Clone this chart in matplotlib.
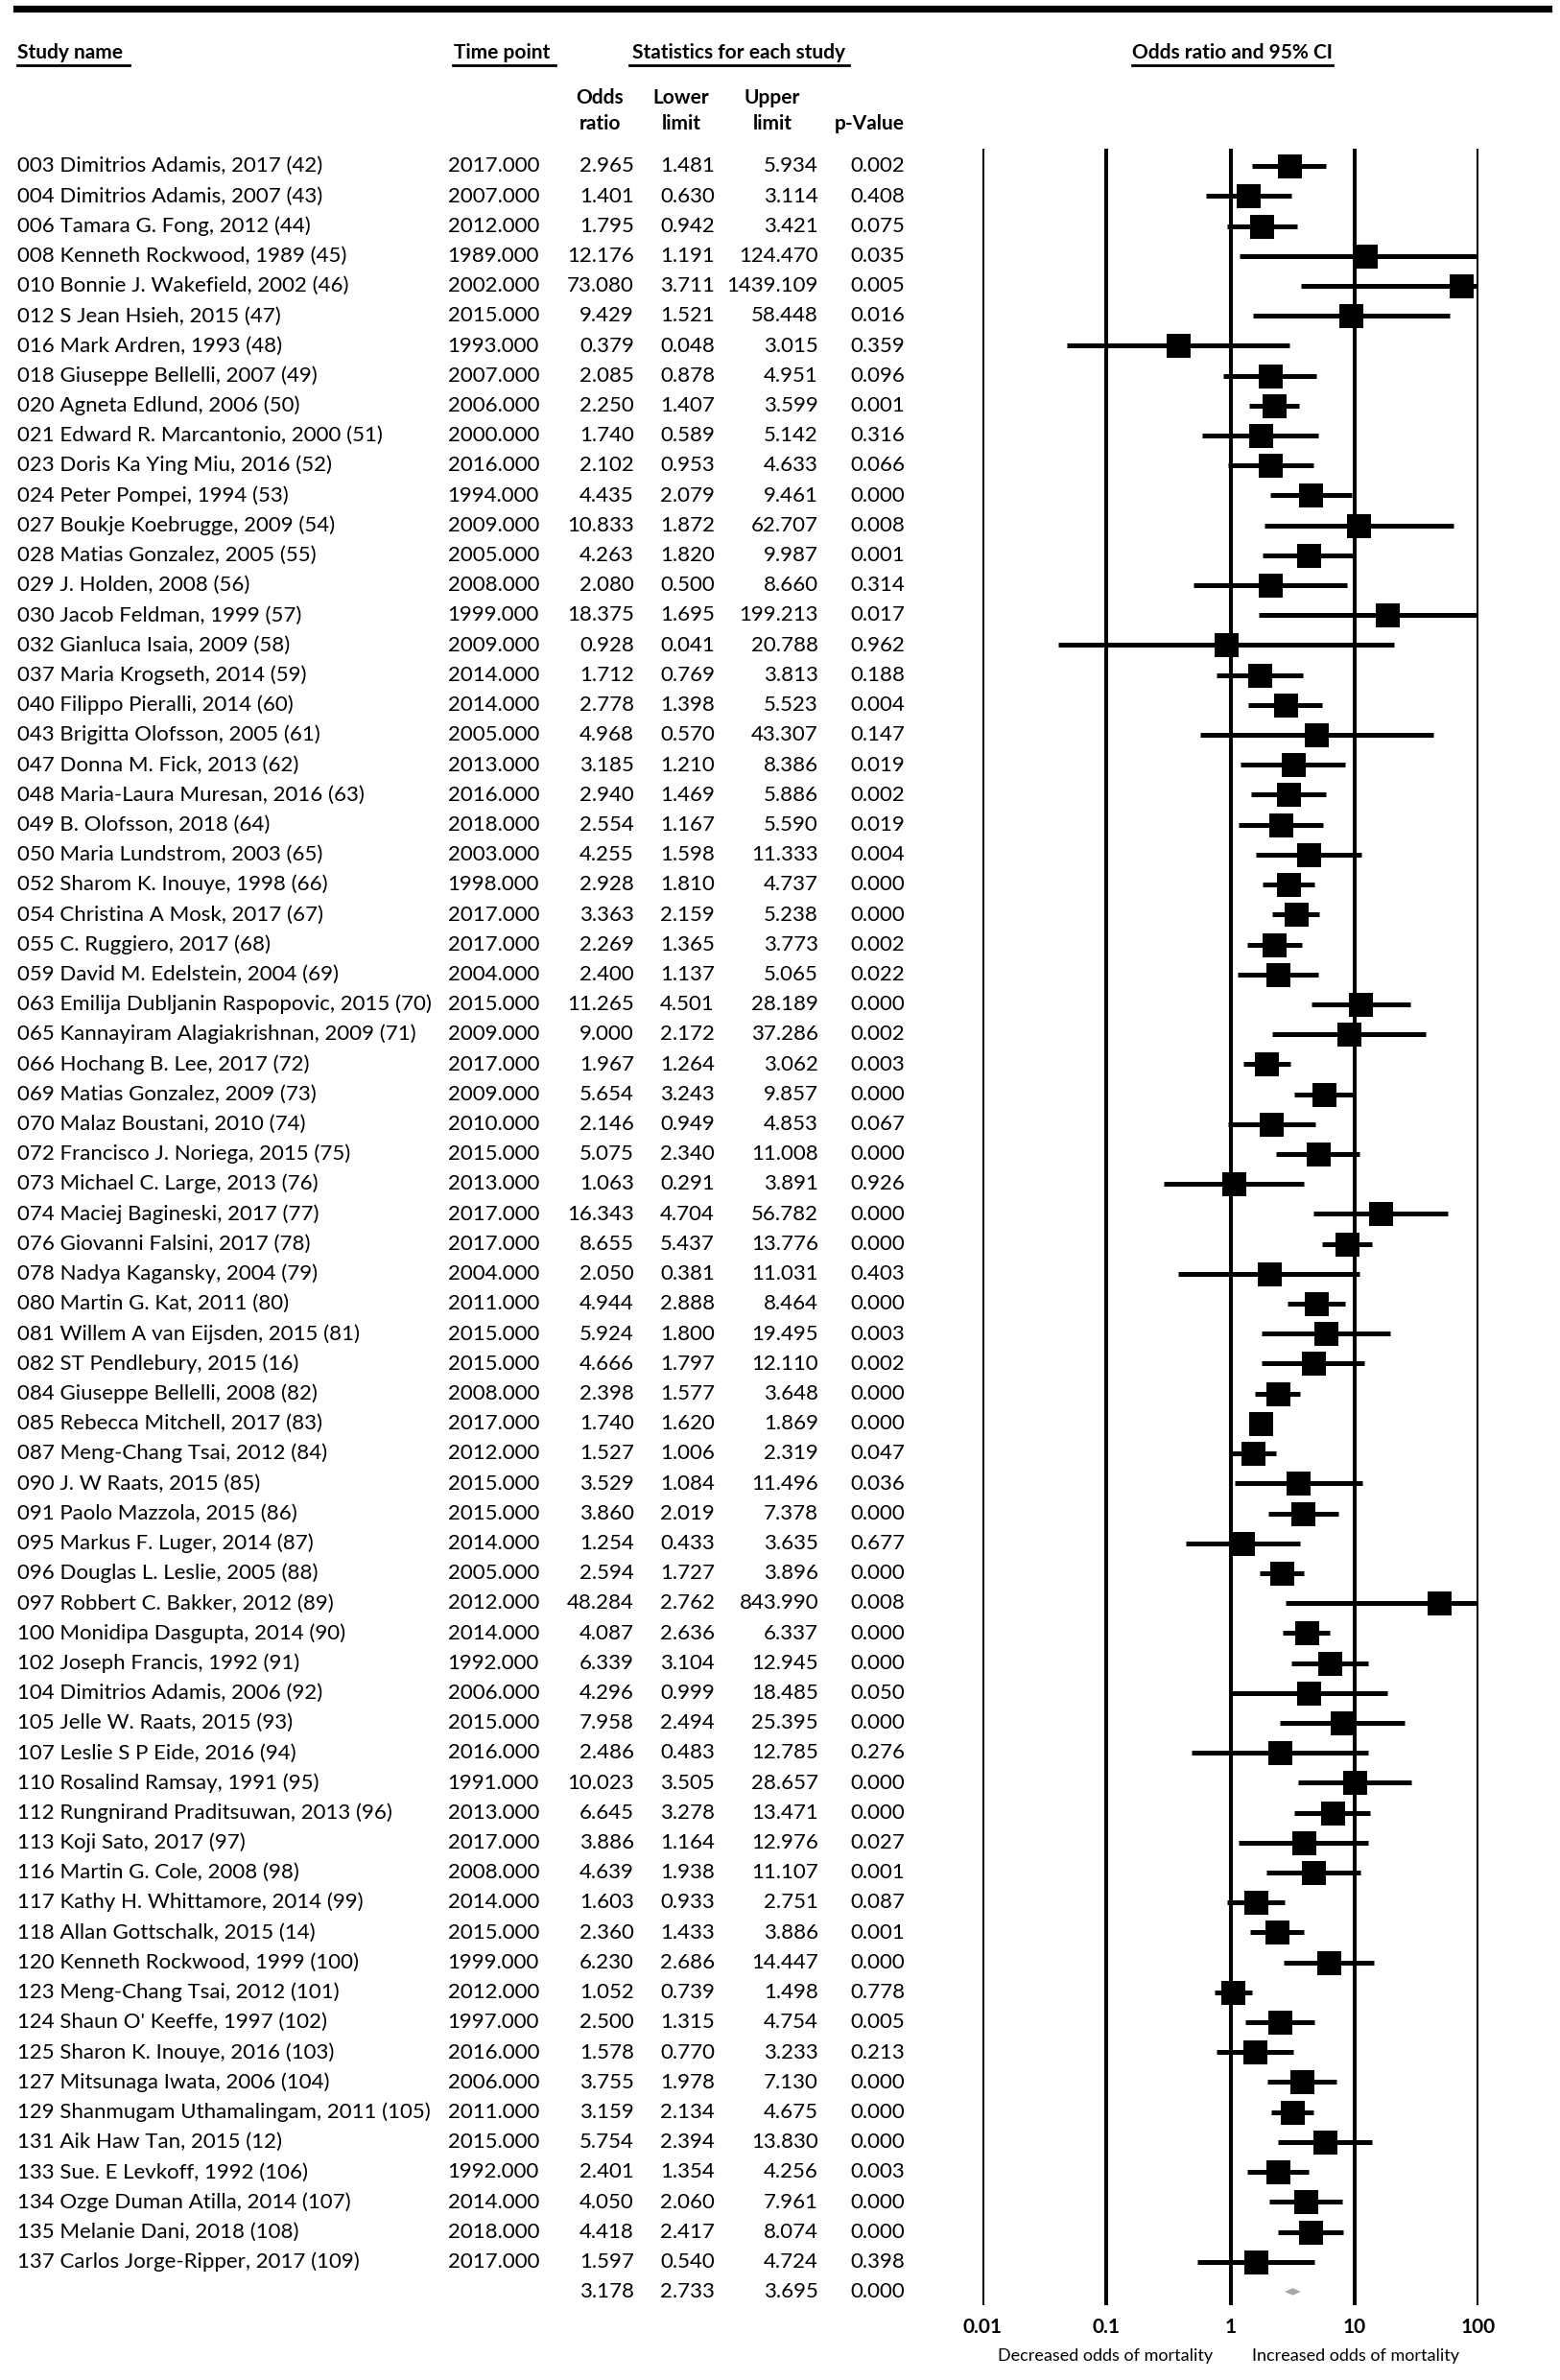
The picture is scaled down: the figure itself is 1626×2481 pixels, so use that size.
import matplotlib.pyplot as plt
from matplotlib.lines import Line2D
from matplotlib.transforms import blended_transform_factory

plt.rcParams['font.family'] = ['Lato', 'DejaVu Sans']

studies = [
    "003 Dimitrios Adamis, 2017 (42)", "004 Dimitrios Adamis, 2007 (43)",
    "006 Tamara G. Fong, 2012 (44)", "008 Kenneth Rockwood, 1989 (45)",
    "010 Bonnie J. Wakefield, 2002 (46)", "012 S Jean Hsieh, 2015 (47)",
    "016 Mark Ardren, 1993 (48)", "018 Giuseppe Bellelli, 2007 (49)",
    "020 Agneta Edlund, 2006 (50)", "021 Edward R. Marcantonio, 2000 (51)",
    "023 Doris Ka Ying Miu, 2016 (52)", "024 Peter Pompei, 1994 (53)",
    "027 Boukje Koebrugge, 2009 (54)", "028 Matias Gonzalez, 2005 (55)",
    "029 J. Holden, 2008 (56)", "030 Jacob Feldman, 1999 (57)",
    "032 Gianluca Isaia, 2009 (58)", "037 Maria Krogseth, 2014 (59)",
    "040 Filippo Pieralli, 2014 (60)", "043 Brigitta Olofsson, 2005 (61)",
    "047 Donna M. Fick, 2013 (62)", "048 Maria-Laura Muresan, 2016 (63)",
    "049 B. Olofsson, 2018 (64)", "050 Maria Lundstrom, 2003 (65)",
    "052 Sharom K. Inouye, 1998 (66)", "054 Christina A Mosk, 2017 (67)",
    "055 C. Ruggiero, 2017 (68)", "059 David M. Edelstein, 2004 (69)",
    "063 Emilija Dubljanin Raspopovic, 2015 (70)", "065 Kannayiram Alagiakrishnan, 2009 (71)",
    "066 Hochang B. Lee, 2017 (72)", "069 Matias Gonzalez, 2009 (73)",
    "070 Malaz Boustani, 2010 (74)", "072 Francisco J. Noriega, 2015 (75)",
    "073 Michael C. Large, 2013 (76)", "074 Maciej Bagineski, 2017 (77)",
    "076 Giovanni Falsini, 2017 (78)", "078 Nadya Kagansky, 2004 (79)",
    "080 Martin G. Kat, 2011 (80)", "081 Willem A van Eijsden, 2015 (81)",
    "082 ST Pendlebury, 2015 (16)", "084 Giuseppe Bellelli, 2008 (82)",
    "085 Rebecca Mitchell, 2017 (83)", "087 Meng-Chang Tsai, 2012 (84)",
    "090 J. W Raats, 2015 (85)", "091 Paolo Mazzola, 2015 (86)",
    "095 Markus F. Luger, 2014 (87)", "096 Douglas L. Leslie, 2005 (88)",
    "097 Robbert C. Bakker, 2012 (89)", "100 Monidipa Dasgupta, 2014 (90)",
    "102 Joseph Francis, 1992 (91)", "104 Dimitrios Adamis, 2006 (92)",
    "105 Jelle W. Raats, 2015 (93)", "107 Leslie S P Eide, 2016 (94)",
    "110 Rosalind Ramsay, 1991 (95)", "112 Rungnirand Praditsuwan, 2013 (96)",
    "113 Koji Sato, 2017 (97)", "116 Martin G. Cole, 2008 (98)",
    "117 Kathy H. Whittamore, 2014 (99)", "118 Allan Gottschalk, 2015 (14)",
    "120 Kenneth Rockwood, 1999 (100)", "123 Meng-Chang Tsai, 2012 (101)",
    "124 Shaun O' Keeffe, 1997 (102)", "125 Sharon K. Inouye, 2016 (103)",
    "127 Mitsunaga Iwata, 2006 (104)", "129 Shanmugam Uthamalingam, 2011 (105)",
    "131 Aik Haw Tan, 2015 (12)", "133 Sue. E Levkoff, 1992 (106)",
    "134 Ozge Duman Atilla, 2014 (107)", "135 Melanie Dani, 2018 (108)",
    "137 Carlos Jorge-Ripper, 2017 (109)",
]
years = [2017, 2007, 2012, 1989, 2002, 2015, 1993, 2007, 2006, 2000, 2016, 1994,
         2009, 2005, 2008, 1999, 2009, 2014, 2014, 2005, 2013, 2016, 2018, 2003,
         1998, 2017, 2017, 2004, 2015, 2009, 2017, 2009, 2010, 2015, 2013, 2017,
         2017, 2004, 2011, 2015, 2015, 2008, 2017, 2012, 2015, 2015, 2014, 2005,
         2012, 2014, 1992, 2006, 2015, 2016, 1991, 2013, 2017, 2008, 2014, 2015,
         1999, 2012, 1997, 2016, 2006, 2011, 2015, 1992, 2014, 2018, 2017]
odds = [2.965, 1.401, 1.795, 12.176, 73.080, 9.429, 0.379, 2.085, 2.250, 1.740,
        2.102, 4.435, 10.833, 4.263, 2.080, 18.375, 0.928, 1.712, 2.778, 4.968,
        3.185, 2.940, 2.554, 4.255, 2.928, 3.363, 2.269, 2.400, 11.265, 9.000,
        1.967, 5.654, 2.146, 5.075, 1.063, 16.343, 8.655, 2.050, 4.944, 5.924,
        4.666, 2.398, 1.740, 1.527, 3.529, 3.860, 1.254, 2.594, 48.284, 4.087,
        6.339, 4.296, 7.958, 2.486, 10.023, 6.645, 3.886, 4.639, 1.603, 2.360,
        6.230, 1.052, 2.500, 1.578, 3.755, 3.159, 5.754, 2.401, 4.050, 4.418,
        1.597]
lower = [1.481, 0.630, 0.942, 1.191, 3.711, 1.521, 0.048, 0.878, 1.407, 0.589,
         0.953, 2.079, 1.872, 1.820, 0.500, 1.695, 0.041, 0.769, 1.398, 0.570,
         1.210, 1.469, 1.167, 1.598, 1.810, 2.159, 1.365, 1.137, 4.501, 2.172,
         1.264, 3.243, 0.949, 2.340, 0.291, 4.704, 5.437, 0.381, 2.888, 1.800,
         1.797, 1.577, 1.620, 1.006, 1.084, 2.019, 0.433, 1.727, 2.762, 2.636,
         3.104, 0.999, 2.494, 0.483, 3.505, 3.278, 1.164, 1.938, 0.933, 1.433,
         2.686, 0.739, 1.315, 0.770, 1.978, 2.134, 2.394, 1.354, 2.060, 2.417,
         0.540]
upper = [5.934, 3.114, 3.421, 124.470, 1439.109, 58.448, 3.015, 4.951, 3.599, 5.142,
         4.633, 9.461, 62.707, 9.987, 8.660, 199.213, 20.788, 3.813, 5.523, 43.307,
         8.386, 5.886, 5.590, 11.333, 4.737, 5.238, 3.773, 5.065, 28.189, 37.286,
         3.062, 9.857, 4.853, 11.008, 3.891, 56.782, 13.776, 11.031, 8.464, 19.495,
         12.110, 3.648, 1.869, 2.319, 11.496, 7.378, 3.635, 3.896, 843.990, 6.337,
         12.945, 18.485, 25.395, 12.785, 28.657, 13.471, 12.976, 11.107, 2.751, 3.886,
         14.447, 1.498, 4.754, 3.233, 7.130, 4.675, 13.830, 4.256, 7.961, 8.074,
         4.724]
pvals = [0.002, 0.408, 0.075, 0.035, 0.005, 0.016, 0.359, 0.096, 0.001, 0.316,
         0.066, 0.000, 0.008, 0.001, 0.314, 0.017, 0.962, 0.188, 0.004, 0.147,
         0.019, 0.002, 0.019, 0.004, 0.000, 0.000, 0.002, 0.022, 0.000, 0.002,
         0.003, 0.000, 0.067, 0.000, 0.926, 0.000, 0.000, 0.403, 0.000, 0.003,
         0.002, 0.000, 0.000, 0.047, 0.036, 0.000, 0.677, 0.000, 0.008, 0.000,
         0.000, 0.050, 0.000, 0.276, 0.000, 0.000, 0.027, 0.001, 0.087, 0.001,
         0.000, 0.778, 0.005, 0.213, 0.000, 0.000, 0.000, 0.003, 0.000, 0.000,
         0.398]
pooled_or, pooled_lo, pooled_hi, pooled_p = 3.178, 2.733, 3.695, 0.000
ticks = [0.01, 0.1, 1, 10, 100]
tick_labels = ['0.01', '0.1', '1', '10', '100']

W, H = 1626, 2481
FS = 16      # table rows
HFS = 15     # bold headers
fig = plt.figure(figsize=(W / 100, H / 100), dpi=100)


def fx(px):
    return px / W


def fy(py):
    return 1 - py / H


# forest panel
ax = fig.add_axes([fx(1024), fy(2403), (1541 - 1024) / W, (2403 - 155) / H])
ax.set_xscale('log')
ax.set_xlim(0.01, 100)
ax.set_ylim(71.45, -0.58)
for s in ax.spines.values():
    s.set_visible(False)
ax.set_yticks([])
ax.minorticks_off()
ax.set_xticks(ticks, tick_labels, fontsize=HFS, fontweight='bold')
ax.tick_params(axis='x', length=0, pad=9)
for t in ticks:
    ax.axvline(t, color='black', lw=2.9, zorder=1)

rows = list(range(len(studies)))
ax.hlines(rows, lower, upper, color='black', lw=3.6, zorder=2)
ax.plot(odds, rows, 's', color='black', ms=18, mew=0, zorder=3)

r_sum = len(studies)
ax.fill([pooled_lo, pooled_or, pooled_hi, pooled_or],
        [r_sum, r_sum - 0.12, r_sum, r_sum + 0.12], color='#a8a8a8', lw=0, zorder=3)

# table text
tr = blended_transform_factory(fig.transFigure, ax.transData)
dy = 0.2
for i in rows:
    y = i + dy
    ax.text(fx(18), y, studies[i], transform=tr, fontsize=FS, va='baseline', ha='left')
    ax.text(fx(562), y, f"{years[i]:.3f}", transform=tr, fontsize=FS, va='baseline', ha='right')
    ax.text(fx(661), y, f"{odds[i]:.3f}", transform=tr, fontsize=FS, va='baseline', ha='right')
    ax.text(fx(745), y, f"{lower[i]:.3f}", transform=tr, fontsize=FS, va='baseline', ha='right')
    ax.text(fx(853), y, f"{upper[i]:.3f}", transform=tr, fontsize=FS, va='baseline', ha='right')
    ax.text(fx(943), y, f"{pvals[i]:.3f}", transform=tr, fontsize=FS, va='baseline', ha='right')

y = r_sum + dy
ax.text(fx(661), y, f"{pooled_or:.3f}", transform=tr, fontsize=FS, va='baseline', ha='right')
ax.text(fx(745), y, f"{pooled_lo:.3f}", transform=tr, fontsize=FS, va='baseline', ha='right')
ax.text(fx(853), y, f"{pooled_hi:.3f}", transform=tr, fontsize=FS, va='baseline', ha='right')
ax.text(fx(943), y, f"{pooled_p:.3f}", transform=tr, fontsize=FS, va='baseline', ha='right')

# headers
fig.add_artist(Line2D([fx(17), fx(1614)], [fy(8.5), fy(8.5)], color='black', lw=5.2))

headers = [("Study name", 18, 'left'), ("Time point", 473, 'left'),
           ("Statistics for each study", 770, 'center'),
           ("Odds ratio and 95% CI", 1285, 'center')]
for label, x0, ha in headers:
    fig.text(fx(x0), fy(61), label, fontsize=HFS, fontweight='bold', ha=ha, va='baseline')
underlines = [(18, 135), (472, 579), (656, 885), (1180, 1389)]
for a, b in underlines:
    fig.add_artist(Line2D([fx(a), fx(b)], [fy(67.5), fy(67.5)], color='black', lw=2))

sub = [("Odds", "ratio", 625), ("Lower", "limit", 710), ("Upper", "limit", 805), ("", "p-Value", 906)]
for top, bot, cx in sub:
    fig.text(fx(cx), fy(108), top, fontsize=HFS, fontweight='bold', ha='center', va='baseline')
    fig.text(fx(cx), fy(135), bot, fontsize=HFS, fontweight='bold', ha='center', va='baseline')

fig.text(fx(1152), fy(2456), "Decreased odds of mortality", fontsize=13, ha='center', va='center')
fig.text(fx(1413), fy(2456), "Increased odds of mortality", fontsize=13, ha='center', va='center')

fig.savefig('out.png', dpi=100, facecolor='white')
